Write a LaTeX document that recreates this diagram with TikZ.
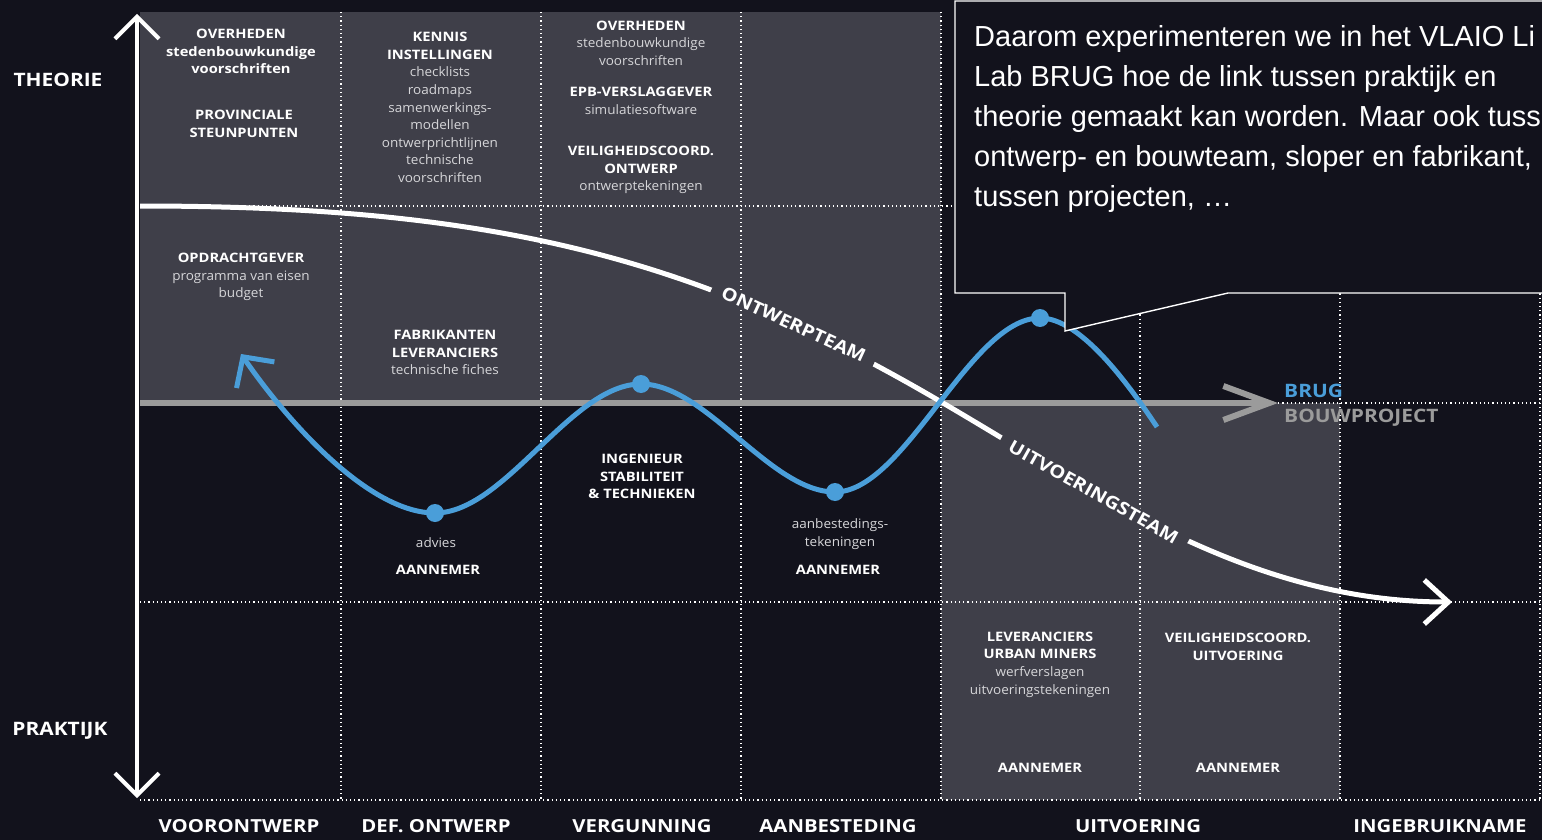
\documentclass[tikz,border=0pt]{standalone}
\usepackage{fontspec}
\setmainfont{Open Sans}[FakeStretch=1.04,BoldFeatures={FakeStretch=1.13}]
\newfontfamily\calloutfont{Liberation Sans}
\usetikzlibrary{arrows.meta}

\definecolor{bgnavy}{HTML}{12121C}
\definecolor{cellgray}{HTML}{3F3F49}
\definecolor{brugblue}{HTML}{4A9ED9}
\definecolor{bouwgray}{HTML}{9B9B9B}
\definecolor{softtext}{HTML}{D6D6D9}

\newcommand{\softtxt}[1]{\textcolor{softtext}{#1}}

\begin{document}
\begin{tikzpicture}[x=1pt,y=-1pt,
        gridline/.style={draw=white!80,line width=1.2pt,dash pattern=on 1.2pt off 3pt},
        box text/.style={text=white,align=center,font=\fontsize{13}{17.6}\selectfont\bfseries},
        axis label/.style={text=white,font=\fontsize{18.5}{20}\selectfont\bfseries},
        phase/.style={text=white,font=\fontsize{18}{20}\selectfont\bfseries},
        team label/.style={text=white,font=\fontsize{17.8}{20}\selectfont\bfseries,
            fill=cellgray,inner xsep=11pt,inner ysep=2pt,sloped},
        axis/.style={draw=white,line width=4pt},
        bouw/.style={draw=bouwgray,line width=6pt},
        team/.style={draw=white,line width=5pt},
        wave/.style={draw=brugblue,line width=5pt},
        callout/.style={draw=white,fill=bgnavy,line width=1.4pt}]

    % background and shaded cells
    \fill[bgnavy] (0,0) rectangle (1542,840);
    \useasboundingbox (0,0) rectangle (1542,840);
    \fill[cellgray] (140,12) rectangle (941,403);
    \fill[cellgray] (941,403) rectangle (1340,800);

    % dotted grid
    \foreach \gx in {341,541,741,941,1140,1340,1540}
        \draw[gridline] (\gx,12) -- (\gx,800);
    \foreach \gy in {206,403,602,800}
        \draw[gridline] (140,\gy) -- (1540,\gy);

    % cell texts
    \node[box text] (ovh1) at (241,51.5) {OVERHEDEN\\stedenbouwkundige\\voorschriften};
    \node[box text] (prov) at (244,124) {PROVINCIALE\\STEUNPUNTEN};
    \node[box text] (opdr) at (241,277) {OPDRACHTGEVER\\\mdseries\softtxt{programma van eisen}\\\mdseries\softtxt{budget}};
    \node[box text] (kennis) at (440,107.5) {KENNIS\\INSTELLINGEN\\\mdseries\softtxt{checklists}\\\mdseries\softtxt{roadmaps}\\\mdseries\softtxt{samenwerkings-}\\\mdseries\softtxt{modellen}\\\mdseries\softtxt{ontwerprichtlijnen}\\\mdseries\softtxt{technische}\\\mdseries\softtxt{voorschriften}};
    \node[box text] (fabr) at (445,352.5) {FABRIKANTEN\\LEVERANCIERS\\\mdseries\softtxt{technische fiches}};
    \node[box text] (ovh2) at (641,43) {OVERHEDEN\\\mdseries\softtxt{stedenbouwkundige}\\\mdseries\softtxt{voorschriften}};
    \node[box text] (epb) at (641,101) {EPB-VERSLAGGEVER\\\mdseries\softtxt{simulatiesoftware}};
    \node[box text] (veilo) at (641,170) {VEILIGHEIDSCOORD.\\ONTWERP\\\mdseries\softtxt{ontwerptekeningen}};
    \node[box text] (ingen) at (642,476.5) {INGENIEUR\\STABILITEIT\\\&~TECHNIEKEN};
    \node[box text] (advies) at (436,543) {\mdseries\softtxt{advies}};
    \node[box text] (ann1) at (438,570) {AANNEMER};
    \node[box text] (aanb) at (840,534) {\mdseries\softtxt{aanbestedings-}\\\mdseries\softtxt{tekeningen}};
    \node[box text] (ann2) at (838,570) {AANNEMER};
    \node[box text] (levu) at (1040,664.5) {LEVERANCIERS\\URBAN MINERS\\\mdseries\softtxt{werfverslagen}\\\mdseries\softtxt{uitvoeringstekeningen}};
    \node[box text] (ann3) at (1040,768) {AANNEMER};
    \node[box text] (veilu) at (1238,647) {VEILIGHEIDSCOORD.\\UITVOERING};
    \node[box text] (ann4) at (1238,768) {AANNEMER};

    % axis
    \coordinate (axtop) at (137,14);
    \coordinate (axbot) at (137,798);
    \draw[axis,{Straight Barb[length=22pt,width=44pt]}-{Straight Barb[length=22pt,width=44pt]}] (axtop) -- (axbot);
    \node[axis label] (theorie) at (58,80) {THEORIE};
    \node[axis label] (praktijk) at (60,731) {PRAKTIJK};

    % phases
    \node[phase] (voor) at (239,826) {VOORONTWERP};
    \node[phase] (def) at (436,826) {DEF. ONTWERP};
    \node[phase] (verg) at (642,826) {VERGUNNING};
    \node[phase] (aanbest) at (838,826) {AANBESTEDING};
    \node[phase] (uitv) at (1138,826) {UITVOERING};
    \node[phase] (ingebr) at (1440,826) {INGEBRUIKNAME};

    % bouwproject line
    \coordinate (bouwstart) at (140,403);
    \coordinate (bouwend) at (1278,403);
    \draw[bouw,-{Straight Barb[length=46pt,width=34pt]}] (bouwstart) -- (bouwend);
    \node[axis label,text=brugblue,anchor=west,inner sep=0pt] (brug) at (1284,391) {BRUG};
    \node[axis label,text=bouwgray,anchor=west,inner sep=0pt] (bouwproj) at (1284,418) {BOUWPROJECT};

    % teams
    \coordinate (tstart) at (140,206);
    \coordinate (tmid) at (943,403);
    \coordinate (tend) at (1452,602);
    \draw[team,-{Straight Barb[length=24pt,width=44pt]}] (tstart) .. controls (500,206) and (700,260) .. (tmid)
        node[team label,pos=0.79] (ontw) {ONTWERPTEAM}
        .. controls (1100,495) and (1250,602) .. (tend)
        node[team label,pos=0.32] (uitvt) {UITVOERINGSTEAM};

    % brug wave
    \coordinate (wA) at (241,354);
    \coordinate (wT1) at (435,513);
    \coordinate (wP1) at (641,384);
    \coordinate (wT2) at (835,492);
    \coordinate (wP2) at (1040,318);
    \coordinate (wE) at (1157,427);
    \draw[wave,{Straight Barb[length=22pt,width=46pt]}-] (wA) .. controls (290,425) and (370,513) .. (wT1)
        .. controls (505,513) and (571,384) .. (wP1)
        .. controls (706,384) and (770,492) .. (wT2)
        .. controls (905,492) and (970,318) .. (wP2)
        .. controls (1080,318) and (1127,382) .. (wE);
    \foreach \p in {wT1,wP1,wT2,wP2}
        \fill[brugblue] (\p) circle (9pt);

    % callout
    \draw[callout] (955,1) -- (955,293) -- (1065,293) -- (1065,331) -- (1228,293) -- (1560,293) -- (1560,1) -- cycle;
    \node[anchor=north west,inner sep=0pt,align=left,text=white,
        font=\calloutfont\fontsize{29}{40}\selectfont] (quote) at (974,25.5)
        {Daarom experimenteren we in het VLAIO Li\\Lab BRUG hoe de link tussen praktijk en\\theorie gemaakt kan worden. Maar ook tuss\\ontwerp- en bouwteam, sloper en fabrikant,\\tussen projecten, \dots};
\end{tikzpicture}
\end{document}
